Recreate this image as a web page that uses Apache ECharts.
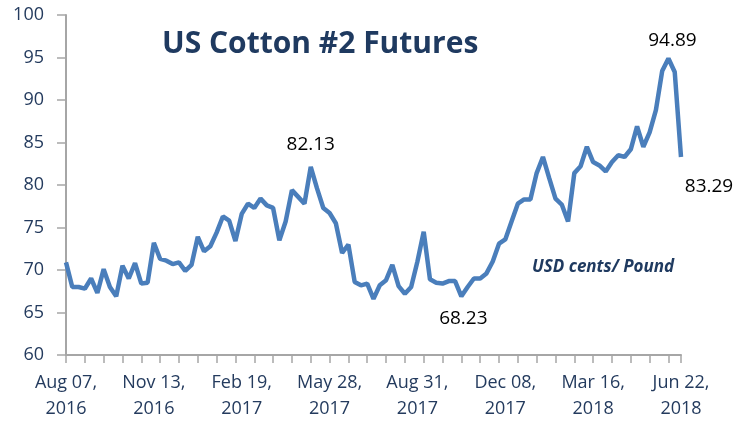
<!DOCTYPE html>
<html>
<head>
<meta charset="utf-8">
<script src="https://cdn.jsdelivr.net/npm/echarts@6/dist/echarts.min.js"></script>
<style>
  html, body { margin: 0; padding: 0; background: #fff; }
  #chart { width: 743px; height: 425px; }
</style>
</head>
<body>
<div id="chart"></div>
<script>
// weekly settle prices, USD cents / pound
var prices = [
  70.9, 68.0, 68.0, 67.8, 69.0, 67.3, 70.1, 68.0, 66.9, 70.5,
  69.0, 70.8, 68.4, 68.5, 73.2, 71.3, 71.1, 70.7, 70.9, 69.9,
  70.6, 73.9, 72.2, 72.8, 74.4, 76.3, 75.8, 73.4, 76.6, 77.8,
  77.3, 78.4, 77.6, 77.3, 73.5, 75.7, 79.4, 78.6, 77.8, 82.13,
  79.6, 77.3, 76.7, 75.5, 72.0, 73.0, 68.6, 68.2, 68.4, 66.6,
  68.2, 68.8, 70.6, 68.1, 67.2, 68.0, 71.0, 74.5, 68.9, 68.5,
  68.4, 68.7, 68.7, 66.9, 68.0, 69.0, 69.0, 69.6, 71.0, 73.1,
  73.6, 75.7, 77.8, 78.3, 78.3, 81.4, 83.3, 80.8, 78.4, 77.7,
  75.7, 81.4, 82.2, 84.5, 82.7, 82.3, 81.6, 82.7, 83.5, 83.3,
  84.2, 86.9, 84.5, 86.2, 88.8, 93.4, 94.89, 93.3, 83.29
];
var tickLabels = ['Aug 07,\n2016', 'Nov 13,\n2016', 'Feb 19,\n2017', 'May 28,\n2017',
                  'Aug 31,\n2017', 'Dec 08,\n2017', 'Mar 16,\n2018', 'Jun 22,\n2018'];
var labelEvery = 14;
var tickEvery = 3;
// callouts: [week index, text shown]
var callouts = [[39, '82.13'], [63, '68.23'], [96, '94.89'], [98, '83.29']];
var calloutOffsets = [[0, -22], [2, 22], [4, -18], [28, 30]];

var weeks = prices.map(function (v, i) { return 'W' + i; });
var navy = '#243b5e';

var chart = echarts.init(document.getElementById('chart'));
chart.setOption({
  animation: false,
  title: {
    text: 'US Cotton #2 Futures',
    left: 157,
    top: 24,
    textStyle: { fontFamily: 'Open Sans', fontSize: 30, fontWeight: 'bold', color: '#1f3a60' }
  },
  grid: { left: 66, right: 62, top: 15, bottom: 70, outerBoundsMode: 'none' },
  xAxis: {
    type: 'category',
    data: weeks,
    boundaryGap: false,
    axisLine: { lineStyle: { color: '#a6a6a6', width: 2 } },
    axisTick: {
      length: 8,
      interval: function (i) { return i % tickEvery === 0 || i === prices.length - 1; },
      lineStyle: { color: '#a6a6a6', width: 1.5 }
    },
    axisLabel: {
      interval: function (i) { return i % labelEvery === 0; },
      formatter: function (v, i) { return tickLabels[i / labelEvery] || ''; },
      margin: 15,
      lineHeight: 26,
      fontFamily: 'Open Sans',
      fontSize: 18,
      color: navy
    },
    splitLine: { show: false }
  },
  yAxis: {
    type: 'value',
    min: 60,
    max: 100,
    interval: 5,
    axisLine: { show: true, lineStyle: { color: '#a6a6a6', width: 2 } },
    axisTick: { show: true, length: 9, lineStyle: { color: '#a6a6a6', width: 1.5 } },
    axisLabel: { margin: 22, fontFamily: 'Open Sans', fontSize: 18, color: navy },
    splitLine: { show: false }
  },
  series: [{
    type: 'line',
    data: prices,
    symbol: 'none',
    lineStyle: { color: '#4a7ebb', width: 4.5 },
    markPoint: {
      symbol: 'circle',
      symbolSize: 0,
      label: { show: true, fontFamily: 'Open Sans', fontSize: 19, color: '#000' },
      data: callouts.map(function (c, k) {
        return {
          coord: [c[0], prices[c[0]]],
          label: { formatter: c[1], offset: calloutOffsets[k] }
        };
      })
    }
  }],
  graphic: [{
    type: 'text',
    left: 532,
    top: 259,
    style: {
      text: 'USD cents/ Pound',
      font: 'italic bold 17px "Open Sans"',
      fill: '#1f3a60'
    }
  }]
});
</script>
</body>
</html>
